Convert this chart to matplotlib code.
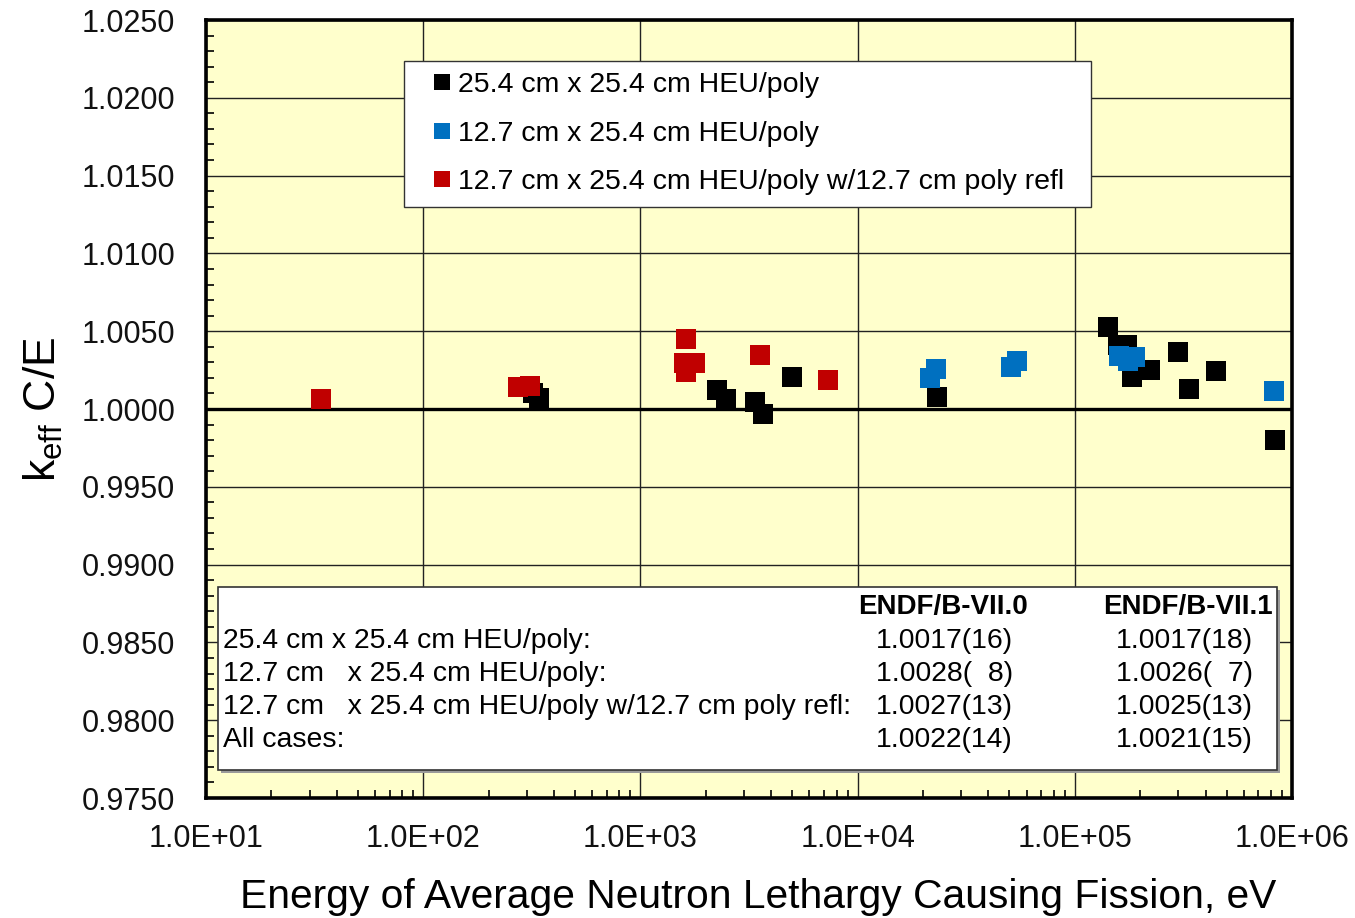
import numpy as np
import matplotlib
matplotlib.use('Agg')
import matplotlib.pyplot as plt
from matplotlib.patches import Rectangle
from matplotlib.ticker import FuncFormatter, LogLocator, NullFormatter, MultipleLocator

# ---------------- data ----------------
black_x = [320, 341, 2254, 2478, 3374, 3665, 4990, 23230, 142200, 158200, 173800,
           183200, 221600, 298600, 335600, 446800, 835000]
black_y = [1.00103, 1.00071, 1.00122, 1.00064, 1.00045, 0.99965, 1.00206, 1.00077,
           1.00527, 1.00411, 1.00411, 1.00206, 1.00251, 1.00366, 1.00129, 1.00244, 0.99801]
blue_x = [21540, 22960, 50800, 54200, 160000, 175800, 189300, 826000]
blue_y = [1.00199, 1.00257, 1.00267, 1.00308, 1.00341, 1.00308, 1.00334, 1.00116]
red_x = [33.8, 273, 310, 1622, 1589, 1782, 1622, 3556, 7311]
red_y = [1.00064, 1.00141, 1.00148, 1.00453, 1.00296, 1.00296, 1.00238, 1.00347, 1.00186]

series_labels = ["25.4 cm x 25.4 cm HEU/poly",
                 "12.7 cm x 25.4 cm HEU/poly",
                 "12.7 cm x 25.4 cm HEU/poly w/12.7 cm poly refl"]

table_headers = ["ENDF/B-VII.0", "ENDF/B-VII.1"]
table_rows = ["25.4 cm x 25.4 cm HEU/poly:",
              "12.7 cm   x 25.4 cm HEU/poly:",
              "12.7 cm   x 25.4 cm HEU/poly w/12.7 cm poly refl:",
              "All cases:"]
table_vii0 = ["1.0017(16)", "1.0028(\u20078)", "1.0027(13)", "1.0022(14)"]
table_vii1 = ["1.0017(18)", "1.0026(\u20077)", "1.0025(13)", "1.0021(15)"]

xlim = (10, 1e6)
ylim = (0.975, 1.025)

# ---------------- style ----------------
plt.rcParams['font.family'] = ['Liberation Sans', 'DejaVu Sans']

fig = plt.figure(figsize=(13.55, 9.18), dpi=100)
ax = fig.add_axes([0.1520, 0.1307, 0.8015, 0.8475])
ax.set_facecolor('#FFFFCC')
ax.set_xscale('log')
ax.set_xlim(*xlim)
ax.set_ylim(*ylim)

ms = 15.1
ax.plot(black_x, black_y, 's', color='#000000', ms=ms, mew=0, zorder=4, label=series_labels[0])
ax.plot(blue_x, blue_y, 's', color='#0070C0', ms=ms, mew=0, zorder=5, label=series_labels[1])
ax.plot(red_x, red_y, 's', color='#C00000', ms=ms, mew=0, zorder=6, label=series_labels[2])

ax.axhline(1.0, color='black', lw=2.4, zorder=3)

# ticks
ax.yaxis.set_major_locator(MultipleLocator(0.005))
ax.yaxis.set_minor_locator(MultipleLocator(0.001))
ax.yaxis.set_major_formatter(FuncFormatter(lambda v, p: '%.4f' % v))
ax.xaxis.set_major_locator(LogLocator(base=10, numticks=10))
ax.xaxis.set_minor_locator(LogLocator(base=10, subs=np.arange(2, 10), numticks=20))
ax.xaxis.set_minor_formatter(NullFormatter())
ax.xaxis.set_major_formatter(FuncFormatter(lambda v, p: '1.0E+%02d' % int(round(np.log10(v)))))

ax.tick_params(which='both', direction='in', top=False, right=False, colors='black')
ax.tick_params(which='major', length=0)
ax.tick_params(axis='x', which='major', pad=19, labelsize=22)
ax.tick_params(axis='y', which='major', pad=22, labelsize=22)
ax.tick_params(which='minor', length=6, width=1.2)
for lab in ax.get_xticklabels() + ax.get_yticklabels():
    lab.set_color('#111111')

ax.grid(True, which='major', color='#222222', lw=1.0, zorder=1)
ax.set_axisbelow(True)
for s in ax.spines.values():
    s.set_linewidth(2.6)
    s.set_color('black')
    s.set_zorder(10)

ax.set_xlabel('Energy of Average Neutron Lethargy Causing Fission, eV', fontsize=29.3, labelpad=17)
ax.xaxis.label.set_x(0.5087)
ax.set_ylabel(r'k$_{\mathregular{eff}}$ C/E', fontsize=32, labelpad=12)

# legend
leg = ax.legend(loc='upper left', bbox_to_anchor=(0.1823, 0.7596, 0.6326, 0.1877),
                mode='expand', borderaxespad=0, fontsize=20.5, frameon=True, fancybox=False,
                framealpha=1, edgecolor='#333333', borderpad=0.4, labelspacing=0.79,
                handlelength=1.9, handletextpad=-0.4, markerscale=0.72, numpoints=1)
leg.get_frame().set_linewidth(1.0)
leg.set_zorder(8)

# statistics box
shadow = Rectangle((0.011 + 0.003, 0.036 - 0.004), 0.9752, 0.2352, transform=ax.transAxes,
                   facecolor='#9a9a9a', edgecolor='none', zorder=6)
box = Rectangle((0.011, 0.036), 0.9752, 0.2352, transform=ax.transAxes,
                facecolor='white', edgecolor='#333333', lw=1.2, zorder=7)
ax.add_patch(shadow)
ax.add_patch(box)

tfs = 20.4
hy = 0.2455
row_y = [0.2018, 0.1594, 0.1170, 0.0746]
ax.text(0.6786, hy, table_headers[0], transform=ax.transAxes, ha='center', va='center',
        fontsize=20, fontweight='bold', zorder=9)
ax.text(0.9042, hy, table_headers[1], transform=ax.transAxes, ha='center', va='center',
        fontsize=20, fontweight='bold', zorder=9)
for yy, lab, v0, v1 in zip(row_y, table_rows, table_vii0, table_vii1):
    ax.text(0.0157, yy, lab, transform=ax.transAxes, ha='left', va='center',
            fontsize=tfs, zorder=9)
    ax.text(0.7431, yy, v0, transform=ax.transAxes, ha='right', va='center',
            fontsize=tfs, zorder=9)
    ax.text(0.9641, yy, v1, transform=ax.transAxes, ha='right', va='center',
            fontsize=tfs, zorder=9)

fig.savefig('out.png', dpi=100)
